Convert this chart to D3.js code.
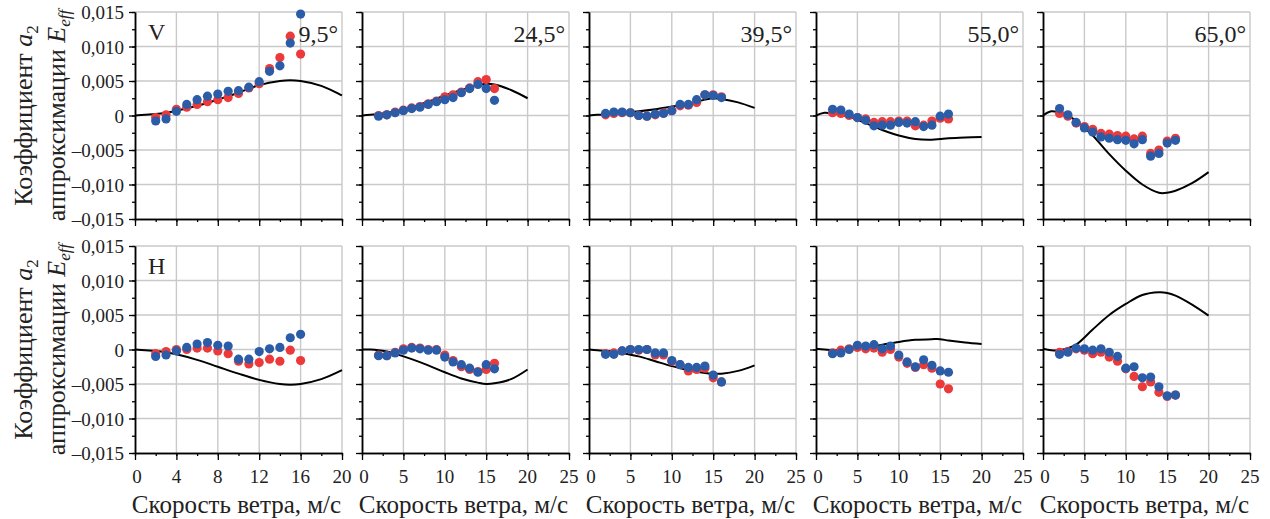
<!DOCTYPE html>
<html><head><meta charset="utf-8">
<script src="https://cdn.jsdelivr.net/npm/d3@7"></script>
<style>body{margin:0;background:#fff}svg{display:block}</style>
</head><body><svg id="c" width="1270" height="519"></svg>
<script>
// ---------- data ----------
const angles = ["9,5°", "24,5°", "39,5°", "55,0°", "65,0°"];
const rowLabels = ["V", "H"];
const windSpeed = [2,3,4,5,6,7,8,9,10,11,12,13,14,15,16];
const curveSpeed = [0,1,2,3,4,6,8,10,12,14,15,16,18,20];
const yTickValues = [0.015, 0.010, 0.005, 0, -0.005, -0.010, -0.015];
const yTickLabels = ["0,015", "0,010", "0,005", "0", "–0,005", "–0,010", "–0,015"];
const xTicksFirst = [0,4,8,12,16,20];
const xTicksOther = [0,5,10,15,20,25];

// Row V (top)
const redV = [
  [-0.0003,0.0001,0.0009,0.0012,0.0016,0.0020,0.0023,0.0026,0.0032,0.0040,0.0046,0.0068,0.0084,0.0115,0.0089],
  [0.0000,0.0001,0.0005,0.0008,0.0011,0.0013,0.0017,0.0021,0.0027,0.0030,0.0034,0.0040,0.0049,0.0052,0.0039],
  [0.0001,0.0003,0.0004,0.0004,0.0000,-0.0001,0.0001,0.0004,0.0007,0.0014,0.0015,0.0019,0.0030,0.0030,0.0027],
  [0.0004,0.0003,0.0000,-0.0003,-0.0005,-0.0010,-0.0009,-0.0009,-0.0008,-0.0008,-0.0015,-0.0014,-0.0008,-0.0004,-0.0005],
  [0.0003,-0.0001,-0.0011,-0.0016,-0.0020,-0.0026,-0.0027,-0.0029,-0.0030,-0.0034,-0.0030,-0.0055,-0.0050,-0.0037,-0.0033]
];
const blueV = [
  [-0.0008,-0.0005,0.0006,0.0016,0.0023,0.0028,0.0031,0.0035,0.0036,0.0041,0.0049,0.0064,0.0072,0.0105,0.0147],
  [-0.0001,0.0001,0.0004,0.0007,0.0010,0.0012,0.0016,0.0020,0.0023,0.0026,0.0033,0.0039,0.0045,0.0039,0.0022],
  [0.0003,0.0005,0.0005,0.0004,0.0000,-0.0001,0.0002,0.0003,0.0007,0.0016,0.0016,0.0023,0.0030,0.0029,0.0026],
  [0.0009,0.0008,0.0002,-0.0003,-0.0007,-0.0015,-0.0014,-0.0014,-0.0010,-0.0011,-0.0009,-0.0016,-0.0014,-0.0001,0.0002],
  [0.0010,0.0001,-0.0010,-0.0018,-0.0024,-0.0031,-0.0033,-0.0035,-0.0036,-0.0041,-0.0035,-0.0059,-0.0055,-0.0040,-0.0036]
];
const curveV = [
  [0,0.0001,0.0002,0.0004,0.0007,0.0014,0.0023,0.0033,0.0044,0.0050,0.0051,0.0050,0.0043,0.0029],
  [0,0.0001,0.0002,0.0004,0.0006,0.0012,0.0020,0.0029,0.0037,0.0044,0.0046,0.0045,0.0037,0.0025],
  [0,0.0001,0.0001,0.0003,0.0004,0.0006,0.0009,0.0013,0.0017,0.0023,0.0025,0.0024,0.0019,0.0011],
  [0,0.0004,0.0003,0.0001,-0.0002,-0.0011,-0.0021,-0.0029,-0.0034,-0.0035,-0.0034,-0.0033,-0.0032,-0.0031],
  [0,0.0006,0.0004,0.0000,-0.0008,-0.0029,-0.0056,-0.0080,-0.0100,-0.0112,-0.0112,-0.0109,-0.0098,-0.0082]
];
// Row H (bottom)
const redH = [
  [-0.0006,-0.0003,0.0000,0.0000,0.0002,0.0002,-0.0002,-0.0006,-0.0017,-0.0021,-0.0019,-0.0014,-0.0017,-0.0001,-0.0016],
  [-0.0008,-0.0009,-0.0004,0.0001,0.0003,0.0002,0.0000,0.0000,-0.0008,-0.0016,-0.0025,-0.0029,-0.0032,-0.0029,-0.0020],
  [-0.0006,-0.0005,-0.0002,0.0000,-0.0001,0.0000,-0.0008,-0.0008,-0.0017,-0.0022,-0.0031,-0.0029,-0.0027,-0.0041,-0.0047],
  [-0.0005,-0.0001,0.0001,0.0003,0.0001,0.0002,-0.0004,0.0000,-0.0011,-0.0020,-0.0026,-0.0022,-0.0027,-0.0050,-0.0057],
  [-0.0004,-0.0003,0.0001,-0.0001,-0.0006,-0.0004,-0.0011,-0.0017,-0.0028,-0.0039,-0.0054,-0.0047,-0.0062,-0.0068,-0.0066]
];
const blueH = [
  [-0.0010,-0.0008,-0.0002,0.0003,0.0008,0.0010,0.0006,0.0005,-0.0014,-0.0014,-0.0003,0.0001,0.0003,0.0017,0.0022],
  [-0.0009,-0.0009,-0.0005,-0.0001,0.0002,0.0001,-0.0001,-0.0001,-0.0011,-0.0018,-0.0022,-0.0027,-0.0033,-0.0022,-0.0028],
  [-0.0007,-0.0007,-0.0002,0.0000,0.0000,0.0000,-0.0005,-0.0005,-0.0016,-0.0022,-0.0026,-0.0026,-0.0024,-0.0037,-0.0047],
  [-0.0006,-0.0005,0.0000,0.0006,0.0005,0.0007,0.0001,0.0005,-0.0008,-0.0018,-0.0025,-0.0015,-0.0023,-0.0031,-0.0033],
  [-0.0007,-0.0004,0.0002,0.0001,-0.0001,0.0001,-0.0004,-0.0010,-0.0027,-0.0025,-0.0041,-0.0040,-0.0054,-0.0067,-0.0066]
];
const curveH = [
  [0,-0.0001,-0.0002,-0.0004,-0.0007,-0.0015,-0.0025,-0.0035,-0.0044,-0.0050,-0.0051,-0.0050,-0.0043,-0.0030],
  [0,0,-0.0001,-0.0003,-0.0006,-0.0014,-0.0023,-0.0033,-0.0042,-0.0048,-0.0050,-0.0049,-0.0043,-0.0029],
  [0,-0.0001,-0.0002,-0.0003,-0.0005,-0.0010,-0.0017,-0.0024,-0.0030,-0.0034,-0.0035,-0.0035,-0.0031,-0.0023],
  [0.0001,0,-0.0001,-0.0001,0,0.0003,0.0007,0.0011,0.0014,0.0015,0.0015,0.0013,0.0010,0.0008],
  [0.0001,-0.0001,-0.0001,0.0002,0.0007,0.0029,0.0050,0.0066,0.0079,0.0083,0.0082,0.0078,0.0065,0.0049]
];

// ---------- layout ----------
const FONT = "Liberation Serif";
const svg = d3.select("#c");
const panelLeft = [135, 362, 589, 816, 1043];
const panelW = 207, panelH = 207;
const rowTop = [12, 246];
const RED = "#ec3a3b", BLUE = "#2b5ca8", GRID = "#c9c9c9", TXT = "#222";

const rows = [
  {label: rowLabels[0], red: redV, blue: blueV, curve: curveV},
  {label: rowLabels[1], red: redH, blue: blueH, curve: curveH}
];

function txt(sel) { return sel.append("text").attr("font-family", FONT).attr("fill", TXT); }

rows.forEach((row, ri) => {
  for (let pi = 0; pi < 5; pi++) {
    const x0 = panelLeft[pi], y0 = rowTop[ri];
    const xmax = pi === 0 ? 20 : 25;
    const majors = pi === 0 ? xTicksFirst : xTicksOther;
    const minorStep = pi === 0 ? 2 : 2.5;
    const minors = d3.range(0, xmax + 0.001, minorStep);
    const x = d3.scaleLinear().domain([0, xmax]).range([x0, x0 + panelW]);
    const y = d3.scaleLinear().domain([-0.015, 0.015]).range([y0 + panelH, y0]);
    const g = svg.append("g");

    // grid
    g.selectAll(".gx").data(majors.slice(1)).join("line")
      .attr("x1", d => x(d)).attr("x2", d => x(d)).attr("y1", y0).attr("y2", y0 + panelH)
      .attr("stroke", GRID).attr("stroke-width", 1.4);
    g.selectAll(".gy").data(yTickValues.filter(v => v > -0.015)).join("line")
      .attr("x1", x0).attr("x2", x0 + panelW).attr("y1", d => y(d)).attr("y2", d => y(d))
      .attr("stroke", GRID).attr("stroke-width", 1.4);

    // axes
    const yMinor = d3.range(-0.015, 0.0151, 0.0025);
    g.append("g").attr("transform", `translate(${x0},0)`)
      .call(d3.axisLeft(y).tickValues(yMinor).tickSize(3).tickSizeOuter(0).tickFormat(""));
    g.append("g").attr("transform", `translate(${x0},0)`)
      .call(d3.axisLeft(y).tickValues(yTickValues).tickSize(6).tickSizeOuter(0).tickFormat(""));
    g.append("g").attr("transform", `translate(0,${y0 + panelH})`)
      .call(d3.axisBottom(x).tickValues(minors).tickSize(3).tickSizeOuter(0).tickFormat(""));
    g.append("g").attr("transform", `translate(0,${y0 + panelH})`)
      .call(d3.axisBottom(x).tickValues(majors).tickSize(7).tickSizeOuter(0).tickFormat(""));
    g.selectAll(".domain").attr("stroke", "#000").attr("stroke-width", 1.5);
    g.selectAll(".tick line").attr("stroke", "#000").attr("stroke-width", 1.3);

    // y tick labels (first panel only)
    if (pi === 0) {
      yTickValues.forEach((v, i) => {
        txt(g).attr("x", x0 - 11).attr("y", y(v) + 7)
          .attr("text-anchor", "end").attr("font-size", 19).text(yTickLabels[i]);
      });
    }
    // x tick labels (bottom row)
    if (ri === 1) {
      majors.forEach(d => {
        txt(g).attr("x", x(d) + (d === 0 ? 2 : 0)).attr("y", y0 + panelH + 30)
          .attr("text-anchor", "middle").attr("font-size", 19).text(d);
      });
      txt(g).attr("x", x0 + panelW / 2 - 2).attr("y", 513)
        .attr("text-anchor", "middle").attr("font-size", 25)
        .text("Скорость ветра, м/с");
    }

    // curve
    const line = d3.line().x((d, i) => x(curveSpeed[i])).y(d => y(d)).curve(d3.curveCatmullRom.alpha(0.5));
    g.append("path").attr("d", line(row.curve[pi])).attr("fill", "none")
      .attr("stroke", "#000").attr("stroke-width", 2);

    // dots
    g.selectAll(".r").data(row.red[pi]).join("circle")
      .attr("cx", (d, i) => x(windSpeed[i])).attr("cy", d => y(d)).attr("r", 4.6).attr("fill", RED);
    g.selectAll(".b").data(row.blue[pi]).join("circle")
      .attr("cx", (d, i) => x(windSpeed[i])).attr("cy", d => y(d)).attr("r", 4.6).attr("fill", BLUE);

    // labels
    if (ri === 0) {
      txt(g).attr("x", x0 + panelW - 4).attr("y", y0 + 30)
        .attr("text-anchor", "end").attr("font-size", 24).text(angles[pi]);
    }
    if (pi === 0) {
      txt(g).attr("x", x0 + 13).attr("y", y0 + 28)
        .attr("font-size", 24).text(row.label);
    }
  }

  // y title
  const cy = rowTop[ri] + panelH / 2;
  const t1 = txt(svg).attr("transform", `translate(32,${cy}) rotate(-90)`)
    .attr("text-anchor", "middle").attr("font-size", 26);
  t1.append("tspan").text("Коэффициент ");
  t1.append("tspan").attr("font-style", "italic").text("a");
  t1.append("tspan").attr("font-size", 17).attr("dy", 6).text("2");
  const t2 = txt(svg).attr("transform", `translate(65,${cy}) rotate(-90)`)
    .attr("text-anchor", "middle").attr("font-size", 26);
  t2.append("tspan").text("аппроксимации ");
  t2.append("tspan").attr("font-style", "italic").text("E");
  t2.append("tspan").attr("font-style", "italic").attr("font-size", 17).attr("dy", 5).text("eff");
});
</script></body></html>
